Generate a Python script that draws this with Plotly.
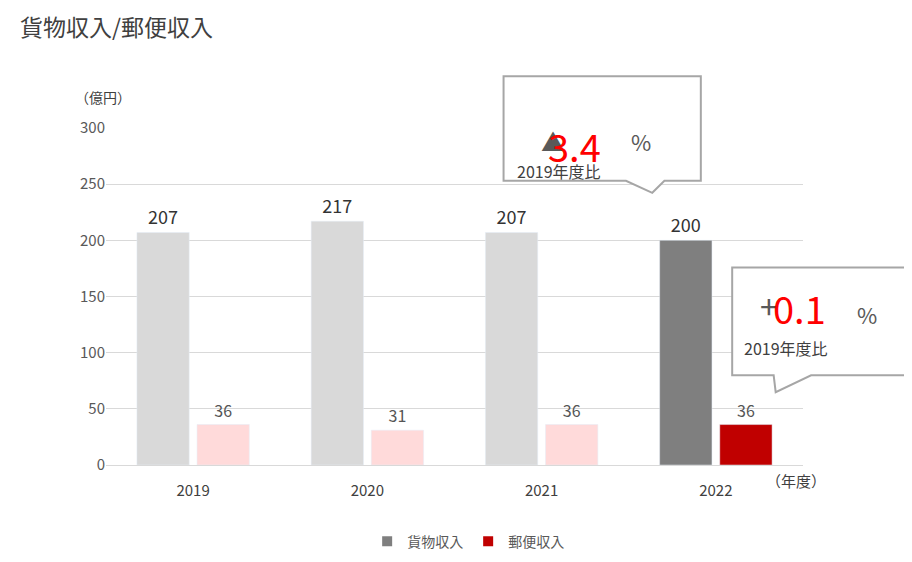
import plotly.graph_objects as go

years = ["2019", "2020", "2021", "2022"]
cargo = [207, 217, 207, 200]
mail = [36, 31, 36, 36]
cargo_colors = ["#D9D9D9", "#D9D9D9", "#D9D9D9", "#7F7F7F"]
mail_colors = ["#FFDADA", "#FFDADA", "#FFDADA", "#C00000"]

FONT = "Noto Sans CJK JP"
W, H = 912, 562
L, R, T, B = 98, 787, 128, 466


def px(x):
    return (x - L) / (R - L)


def py(y):
    return (B - y) / (B - T)


fig = go.Figure()
fig.add_trace(go.Bar(x=years, y=cargo, name="貨物収入", marker_color=cargo_colors,
                     text=cargo, textposition="outside", cliponaxis=False, showlegend=False,
                     textfont=dict(size=18, color="#333333")))
fig.add_trace(go.Bar(x=years, y=mail, name="郵便収入", marker_color=mail_colors,
                     text=mail, textposition="outside", cliponaxis=False, showlegend=False,
                     textfont=dict(size=16, color="#555555")))
# legend swatches
for name, col in [("貨物収入", "#7F7F7F"), ("郵便収入", "#C00000")]:
    fig.add_trace(go.Scatter(x=[None], y=[None], mode="markers", name=name,
                             marker=dict(symbol="square", size=10, color=col)))


def callout(x0, y0, x1, y1, ta, tb, tc):
    d = (f"M {px(x0)} {py(y0)} L {px(x1)} {py(y0)} L {px(x1)} {py(y1)} "
         f"L {px(tc)} {py(y1)} L {px(tb[0])} {py(tb[1])} L {px(ta)} {py(y1)} "
         f"L {px(x0)} {py(y1)} Z")
    return dict(type="path", xref="paper", yref="paper", path=d,
                line=dict(color="#A6A6A6", width=2), fillcolor="white", layer="above")


def txt(s, x, y, size, color):
    return dict(text=s, xref="paper", yref="paper", x=px(x), y=py(y), showarrow=False,
                font=dict(size=size, color=color))


fig.update_layout(
    width=W, height=H, barmode="group", bargap=0.31, bargroupgap=0.13,
    plot_bgcolor="white", paper_bgcolor="white",
    font=dict(family=FONT, color="#404040"),
    margin=dict(l=L, r=W - R - 8, t=T - 8, b=H - B),
    title=dict(text="貨物収入/郵便収入", x=12 / W, y=1 - 20 / H, xanchor="left", yanchor="middle",
               font=dict(size=23, color="#404040")),
    yaxis=dict(range=[0, 300], dtick=50, gridcolor="#D9D9D9", zeroline=False,
               tickfont=dict(size=15, color="#595959"), ticks="", showline=False),
    xaxis=dict(showline=True, linecolor="#D9D9D9", linewidth=1,
               tickfont=dict(size=15, color="#404040"), ticklabelstandoff=12),
    legend=dict(orientation="h", x=px(456), xanchor="center",
                y=py(543), yanchor="middle", font=dict(size=14, color="#595959")),
    shapes=[
        callout(491, 76, 686, 181, 612, (638, 193), 650),
        callout(717, 268, 911, 376, 758, (760, 393), 795),
    ],
    annotations=[
        txt("（億円）", 65, 85, 14, "#404040"),
        txt("（年度）", 812, 494, 15, "#404040"),
        txt("▲", 540, 121, 24, "#595959"),
        txt("3.4", 589, 116, 38, "#FF0000"),
        txt("%", 639, 123, 22, "#595959"),
        txt("2019年度比", 589, 157, 16, "#404040"),
        txt("+", 764, 306, 32, "#595959"),
        txt("0.1", 812, 308, 38, "#FF0000"),
        txt("%", 862, 315, 22, "#595959"),
        txt("2019年度比", 814, 349, 16, "#404040"),
    ],
)

fig.write_html("out.html")
